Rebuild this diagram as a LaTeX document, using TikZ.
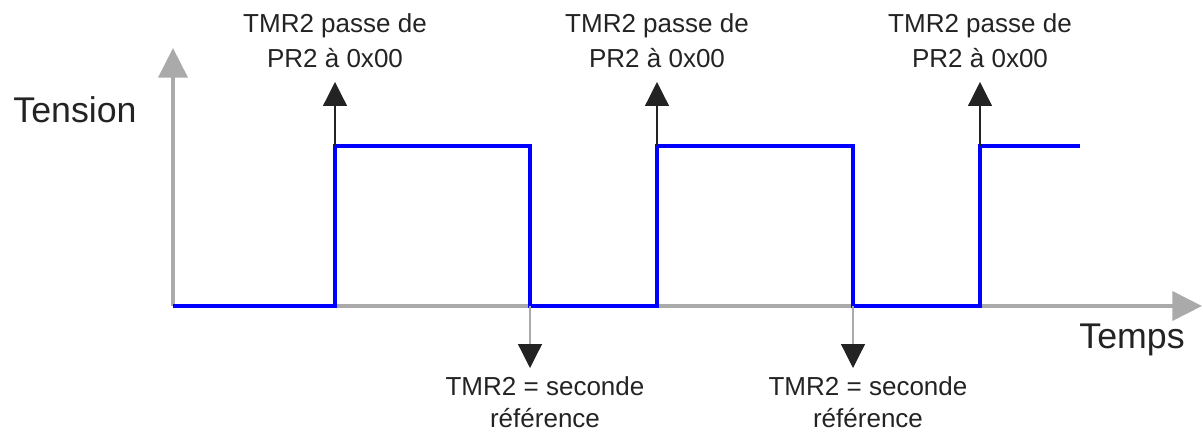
\documentclass[tikz,border=0pt]{standalone}
\usepackage{fontspec}
\setmainfont{Liberation Sans}
\usetikzlibrary{arrows.meta, positioning}
\definecolor{axisgray}{RGB}{170,170,170}
\definecolor{sigblue}{RGB}{0,0,255}
\definecolor{inkgray}{RGB}{35,35,35}

\begin{document}
\begin{tikzpicture}[x=0.025cm, y=-0.025cm]
% Define styles
\tikzstyle{axis} = [draw=axisgray, line width=2.8pt, -{Triangle[length=21pt, width=20.5pt]}]
\tikzstyle{signal} = [draw=sigblue, line width=2.8pt]
\tikzstyle{pointer} = [draw=inkgray, line width=0.9pt, -{Triangle[length=17pt, width=17pt]}]
\tikzstyle{pointerdown} = [draw=axisgray, line width=0.9pt, -{Triangle[length=17pt, width=17pt, color=inkgray]}]
\tikzstyle{note} = [inner sep=0pt, align=center, text=inkgray, font=\fontsize{18.5}{24.9}\selectfont]
\tikzstyle{notelow} = [note, font=\fontsize{18.5}{22.8}\selectfont]
\tikzstyle{axistext} = [inner sep=0pt, text=inkgray, font=\fontsize{25.4}{30}\selectfont]

\useasboundingbox (0,0) rectangle (1203,432);

% Axes
\coordinate (origin) at (173,306);
\coordinate (ytip) at (173,48);
\coordinate (xtip) at (1202,306);
\draw [axis] (origin) -- (ytip);
\draw [axis] (origin) -- (xtip);
\node (tension) [axistext, anchor=base] at (75,123) {Tension};
\node (temps) [axistext, anchor=base] at (1132,348) {Temps};

% Signal
\draw [signal] (origin) -- (335,306) -- (335,146) -- (530,146) -- (530,306)
  -- (657,306) -- (657,146) -- (853,146) -- (853,306)
  -- (980,306) -- (980,146) -- (1080,146);

% Rising edges
\foreach \x/\n in {335/1, 657/2, 980/3} {
  \coordinate (rise\n) at (\x,146);
  \coordinate (up\n) at (\x,82);
  \draw [pointer] (rise\n) -- (up\n);
  \node (pass\n) [note, above=0.35cm of up\n] {TMR2 passe de\\PR2 à 0x00};
}

% Falling edges
\foreach \x/\n in {530/1, 853/2} {
  \coordinate (fall\n) at (\x,306);
  \coordinate (down\n) at (\x,368);
  \draw [pointerdown] (fall\n) -- (down\n);
  \node (ref\n) [notelow, below=0.2cm of down\n, xshift=0.375cm] {TMR2 = seconde\\référence};
}
\end{tikzpicture}
\end{document}
